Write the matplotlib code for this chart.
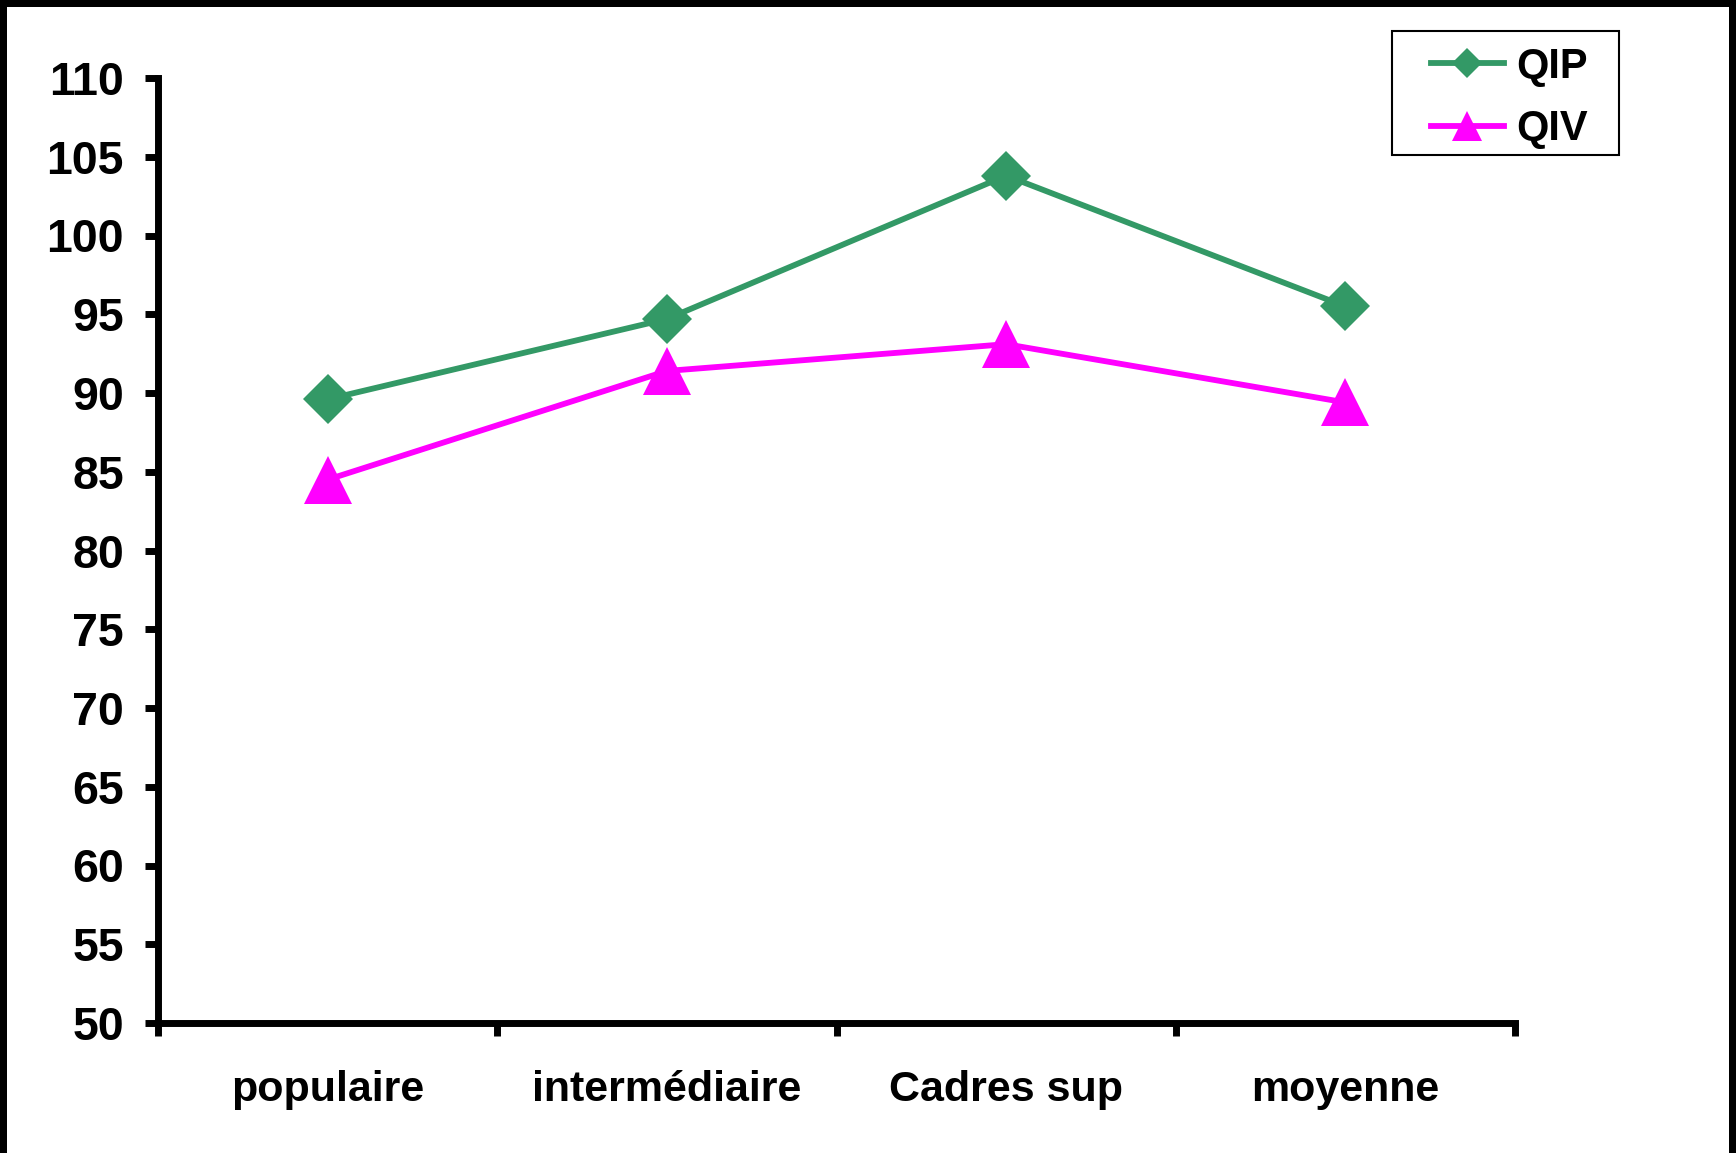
import matplotlib
matplotlib.use("Agg")
import matplotlib.pyplot as plt
from matplotlib.patches import Rectangle

# Categories and mean scores per group
categories = ["populaire", "intermédiaire", "Cadres sup", "moyenne"]
qip = [89.6, 94.7, 103.8, 95.5]
qiv = [84.5, 91.4, 93.1, 89.4]
series_names = ["QIP", "QIV"]
yticks = list(range(50, 111, 5))

GREEN = "#339966"
MAGENTA = "#FF00FF"

plt.rcParams["font.family"] = ["Liberation Sans", "DejaVu Sans"]
plt.rcParams["font.weight"] = "bold"

W, H = 1736, 1153
fig = plt.figure(figsize=(W / 100, H / 100), dpi=100)
fig.patch.set_facecolor("white")

ax = fig.add_axes([158 / W, 1 - 1023 / H, (1515 - 158) / W, (1023 - 78) / H])

xpos = [i + 0.5 for i in range(len(categories))]
ax.plot(xpos, qip, color=GREEN, lw=4.2, marker="D", ms=25,
        markeredgewidth=0, label=series_names[0])
ax.plot(xpos, qiv, color=MAGENTA, lw=4.2, marker="^", ms=35,
        markeredgewidth=0, label=series_names[1])

ax.set_xlim(0, len(categories))
ax.set_ylim(50, 110)

# category boundaries carry the tick marks, names sit between them
ax.set_xticks(range(len(categories) + 1))
ax.set_xticklabels([])
ax.set_xticks(xpos, minor=True)
ax.set_xticklabels(categories, minor=True)
ax.tick_params(axis="x", which="minor", length=0, pad=34, labelsize=31)
ax.tick_params(axis="x", which="major", direction="out", length=9, width=5)

ax.set_yticks(yticks)
ax.set_yticklabels([str(v) for v in yticks])
ax.tick_params(axis="y", direction="out", length=9.5, width=5, pad=15, labelsize=33.5)

for lbl in ax.get_xticklabels(minor=True) + ax.get_yticklabels():
    lbl.set_fontweight("bold")

for side in ("top", "right"):
    ax.spines[side].set_visible(False)
for side in ("left", "bottom"):
    ax.spines[side].set_linewidth(5)
    ax.spines[side].set_capstyle("projecting")

# legend entries without their own frame; the box is drawn separately
leg = ax.legend(loc="center left", bbox_to_anchor=(1431 / W, 1 - 98 / H),
                bbox_transform=fig.transFigure, borderaxespad=0, borderpad=0,
                frameon=False, prop={"weight": "bold", "size": 30},
                markerscale=0.6, handlelength=1.75, handletextpad=0.29,
                labelspacing=0.55)
fig.patches.append(Rectangle((1392 / W, 1 - 155 / H), (1619 - 1392) / W, (155 - 31) / H,
                             transform=fig.transFigure, facecolor="none",
                             edgecolor="black", linewidth=1.5, zorder=5))

# outer frame on left, top and right
for (x0, y0, w, h) in [(0, 0, 7 / W, 1), (0, 1 - 7 / H, 1, 7 / H), (1 - 7 / W, 0, 7 / W, 1)]:
    fig.patches.append(Rectangle((x0, y0), w, h, transform=fig.transFigure,
                                 facecolor="black", edgecolor="none"))

fig.savefig("out.png", dpi=100, facecolor="white")
